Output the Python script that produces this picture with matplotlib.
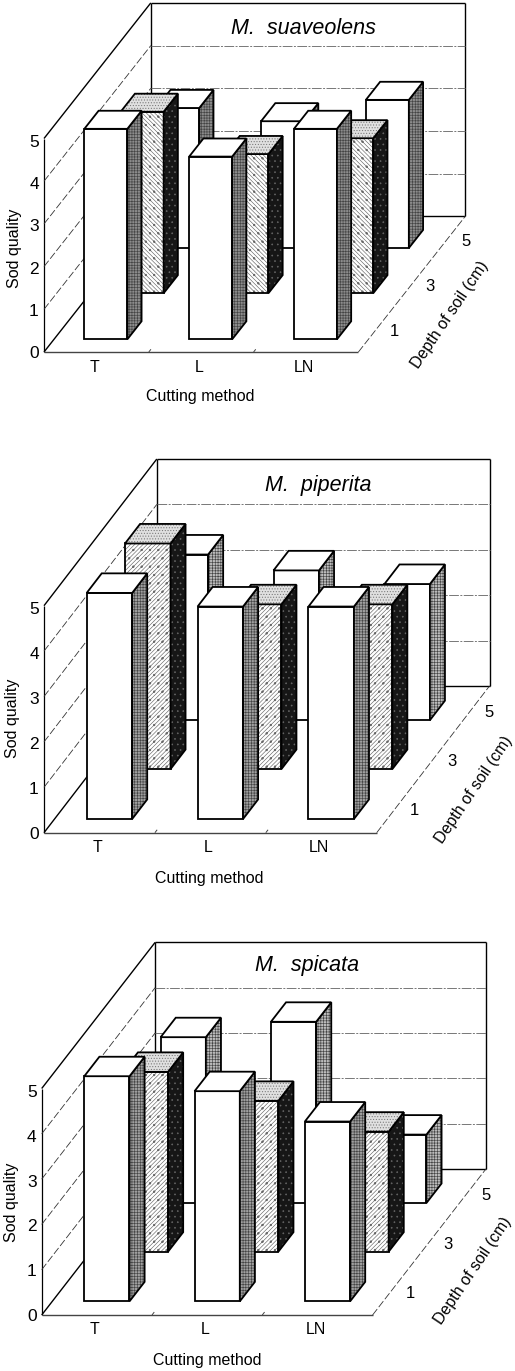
import matplotlib
matplotlib.use('Agg')
import matplotlib.pyplot as plt
from matplotlib.patches import Polygon

plt.rcParams['font.family'] = ['Liberation Sans', 'DejaVu Sans']
plt.rcParams['hatch.linewidth'] = 0.45

methods = ['T', 'L', 'LN']
depths = ['1', '3', '5']
z_ticks = [0, 1, 2, 3, 4, 5]

# sod quality, one list per depth of soil, in order T, L, LN
suaveolens_1 = [4.93, 4.28, 4.93]
suaveolens_3 = [4.25, 3.26, 3.63]
suaveolens_5 = [3.28, 2.97, 3.47]

piperita_1 = [4.98, 4.68, 4.68]
piperita_3 = [4.97, 3.63, 3.63]
piperita_5 = [3.65, 3.30, 3.00]

spicata_1 = [4.97, 4.64, 3.97]
spicata_3 = [3.97, 3.33, 2.65]
spicata_5 = [3.66, 4.00, 1.51]

# panel geometry in picture pixels
panels = [
    dict(title='M.  suaveolens', rows=[suaveolens_1, suaveolens_3, suaveolens_5],
         ox=44, oy=352, sx=104.8, sz=42.7, dx=35.6, dy=45.2, slant='\\\\\\\\\\\\\\\\..',
         side='#8c8c8c', side_back='#8c8c8c',
         title_xy=(303, 29), xlabel_xy=(200, 396), ylabel_xy=(15, 248), depth_xy=(450, 315)),
    dict(title='M.  piperita', rows=[piperita_1, piperita_3, piperita_5],
         ox=44, oy=832.7, sx=110.9, sz=45.4, dx=37.6, dy=48.9, slant='////////..',
         side='#a0a0a0', side_back='#bcbcbc',
         title_xy=(318, 485), xlabel_xy=(209, 878), ylabel_xy=(13, 718), depth_xy=(474, 790)),
    dict(title='M.  spicata', rows=[spicata_1, spicata_3, spicata_5],
         ox=41.7, oy=1315, sx=110.3, sz=45.3, dx=37.8, dy=48.7, slant='////////..',
         side='#a0a0a0', side_back='#bcbcbc',
         title_xy=(307, 966), xlabel_xy=(207, 1361), ylabel_xy=(12, 1202), depth_xy=(473, 1271)),
]

row_start = [0.28, 1.30, 2.30]
bar_start = 0.29
bar_width = 0.41
bar_depth = 0.40

fig = plt.figure(figsize=(5.15, 13.71), dpi=100)
ax = fig.add_axes([0, 0, 1, 1])
ax.set_xlim(0, 515)
ax.set_ylim(1371, 0)
ax.axis('off')


def project(p, x, y, z):
    return p['ox'] + x * p['sx'] + y * p['dx'], p['oy'] - z * p['sz'] - y * p['dy']


def face(p, pts, color='white', hatch=None, hatch_color='black', z=1, lw=1.3):
    xy = [project(p, *q) for q in pts]
    ax.add_patch(Polygon(xy, closed=True, facecolor=color, edgecolor='none', zorder=z))
    if hatch:
        ax.add_patch(Polygon(xy, closed=True, fill=False, hatch=hatch, edgecolor=hatch_color,
                             linewidth=0, zorder=z))
    ax.add_patch(Polygon(xy, closed=True, fill=False, edgecolor='black', linewidth=lw, zorder=z))


def line(p, a, b, **kw):
    (x0, y0), (x1, y1) = project(p, *a), project(p, *b)
    ax.plot([x0, x1], [y0, y1], solid_capstyle='butt', **kw)


def draw_bar(p, i, j, value):
    x0 = i + bar_start
    x1 = x0 + bar_width
    y0 = row_start[j]
    y1 = y0 + bar_depth
    z = 5 + (2 - j) * 10 + i

    front_hatch = None
    front_color = '#404040'
    top_color = 'white'
    top_hatch = None
    side_color = p['side']
    side_hatch = '++++++'
    side_hatch_color = '#444444'
    if j == 1:
        front_hatch = p['slant']
        front_color = '#666666'
        top_color = '#e0e0e0'
        top_hatch = '......'
        side_color = '#161616'
        side_hatch = '...'
        side_hatch_color = '#666666'
    if j == 2:
        side_color = p['side_back']

    face(p, [(x0, y0, 0), (x1, y0, 0), (x1, y0, value), (x0, y0, value)],
         hatch=front_hatch, hatch_color=front_color, z=z)
    face(p, [(x1, y0, 0), (x1, y1, 0), (x1, y1, value), (x1, y0, value)],
         color=side_color, hatch=side_hatch, hatch_color=side_hatch_color, z=z)
    face(p, [(x0, y0, value), (x1, y0, value), (x1, y1, value), (x0, y1, value)],
         color=top_color, hatch=top_hatch, hatch_color='#777777', z=z)


def draw_panel(p):
    nx = len(methods)
    ny = len(depths)
    # walls and floor
    line(p, (0, ny, 0), (0, ny, 5), color='black', lw=1.0, zorder=2)
    line(p, (0, ny, 5), (nx, ny, 5), color='black', lw=1.0, zorder=2)
    line(p, (nx, ny, 5), (nx, ny, 0), color='black', lw=1.0, zorder=2)
    line(p, (0, ny, 0), (nx, ny, 0), color='black', lw=1.0, zorder=2)
    line(p, (0, 0, 0), (0, 0, 5), color='black', lw=0.9, zorder=2)
    line(p, (0, 0, 5), (0, ny, 5), color='black', lw=1.0, zorder=2)
    line(p, (0, 0, 0), (0, ny, 0), color='black', lw=1.0, zorder=2)
    line(p, (0, 0, 0), (nx, 0, 0), color='#444444', lw=1.0, zorder=2)
    line(p, (nx, 0, 0), (nx, ny, 0), color='#333333', lw=0.6, ls=(0, (9, 3)), zorder=2)
    for z in z_ticks[1:-1]:
        line(p, (0, ny, z), (nx, ny, z), color='#777777', lw=0.7, ls=(0, (10, 1.5, 2, 1.5)), zorder=2)
        line(p, (0, 0, z), (0, ny, z), color='#333333', lw=0.6, ls=(0, (9, 3)), zorder=2)
    for i in range(1, nx):
        line(p, (i, 0, 0), (i, 0.06, 0), color='#444444', lw=0.7, zorder=2)

    # back row first so the nearer bars cover it
    for j in reversed(range(ny)):
        for i in range(nx):
            draw_bar(p, i, j, p['rows'][j][i])

    # text
    for z in z_ticks:
        ax.text(p['ox'] - 10, p['oy'] + 1.5 - z * (p['sz'] - 0.5), str(z), fontsize=12.5,
                ha='center', va='center', zorder=60)
    for i, m in enumerate(methods):
        x, y = project(p, i + 0.5, 0, 0)
        ax.text(x - 2, y + 15, m, fontsize=11.5, ha='center', va='center', zorder=60)
    for j, d in enumerate(depths):
        x, y = project(p, nx, j + 0.5, 0)
        ax.text(x + 18.5, y + 2.5, d, fontsize=12, ha='center', va='center', zorder=60)
    ax.text(*p['title_xy'], p['title'], fontsize=15.5, style='italic', ha='center', va='center', zorder=60)
    ax.text(*p['xlabel_xy'], 'Cutting method', fontsize=11.5, ha='center', va='center', zorder=60)
    ax.text(*p['ylabel_xy'], 'Sod quality', fontsize=11.5, rotation=90, ha='center', va='center', zorder=60)
    ax.text(*p['depth_xy'], 'Depth of soil (cm)', fontsize=11.5, rotation=56, rotation_mode='anchor',
            ha='center', va='center', zorder=60)


for panel in panels:
    draw_panel(panel)

fig.savefig('out.png', dpi=100)
